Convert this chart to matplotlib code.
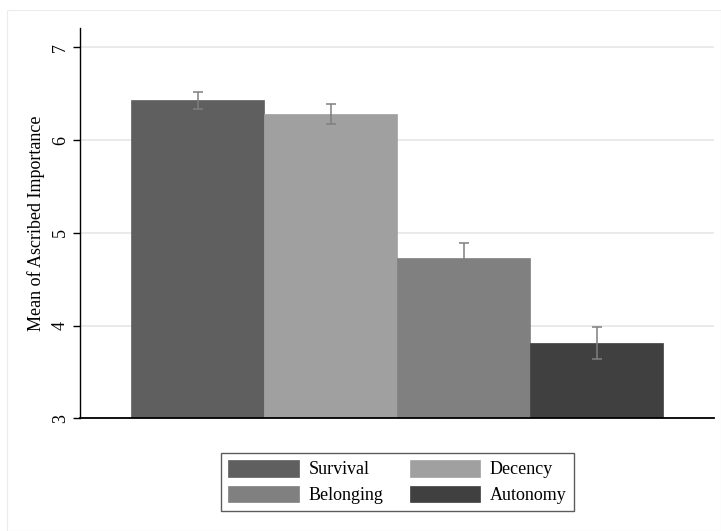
import matplotlib
matplotlib.use("Agg")
import matplotlib.pyplot as plt
from matplotlib.patches import Rectangle

# Data
categories = ["Survival", "Decency", "Belonging", "Autonomy"]
means = [6.43, 6.28, 4.73, 3.81]
ci_half = [0.09, 0.11, 0.16, 0.17]
colors = ["#5f5f5f", "#a0a0a0", "#808080", "#404040"]

plt.rcParams["font.family"] = ["Liberation Serif", "DejaVu Serif"]

fig = plt.figure(figsize=(7.21, 5.31), dpi=100)
W, H = 721, 531

# outer graph region border (light)
fig.patches.append(Rectangle((7 / W, 0), 1 - 7 / W, 1 - 10 / H,
                             transform=fig.transFigure, fill=False,
                             edgecolor="#ececec", linewidth=0.8))

ax = fig.add_axes([80 / W, 1 - 418.3 / H, (714 - 80) / W, (418.3 - 28) / H])

x = list(range(len(categories)))
bars = ax.bar(x, means, width=1.0, color=colors, linewidth=0.5, zorder=2)
for b, c in zip(bars, colors):
    b.set_edgecolor(c)

ax.errorbar(x, means, yerr=ci_half, fmt="none", ecolor="#7f7f7f",
            elinewidth=1.1, capsize=3.4, capthick=1.1, zorder=3)

ax.set_ylim(3, 7.21)
ax.set_xlim(-0.887, 3.88)
ax.set_yticks([3, 4, 5, 6, 7])
ax.set_yticklabels(["3", "4", "5", "6", "7"], rotation=90, va="center",
                   fontsize=13)
ax.set_xticks([])
ax.set_ylabel("Mean of Ascribed Importance", fontsize=13, labelpad=5)
ax.grid(axis="y", color="#e6e6e6", linewidth=1.2, zorder=0)
ax.set_axisbelow(True)
ax.tick_params(axis="y", length=5, width=1, pad=3)
for s in ["top", "right"]:
    ax.spines[s].set_visible(False)
ax.spines["left"].set_linewidth(1.0)
ax.spines["bottom"].set_linewidth(1.3)

# legend ordered like the reference: Survival, Decency / Belonging, Autonomy
order = [0, 2, 1, 3]
leg = fig.legend([bars[i] for i in order], [categories[i] for i in order],
                 ncol=2, loc="center", bbox_to_anchor=(397.5 / W, 1 - 482 / H),
                 fontsize=13, frameon=True, fancybox=False, edgecolor="#333333",
                 handlelength=3.9, handleheight=1.05, handletextpad=0.55,
                 columnspacing=1.45, labelspacing=0.4, borderpad=0.4)
leg.get_frame().set_linewidth(1.0)

fig.savefig("out.png", dpi=100)
